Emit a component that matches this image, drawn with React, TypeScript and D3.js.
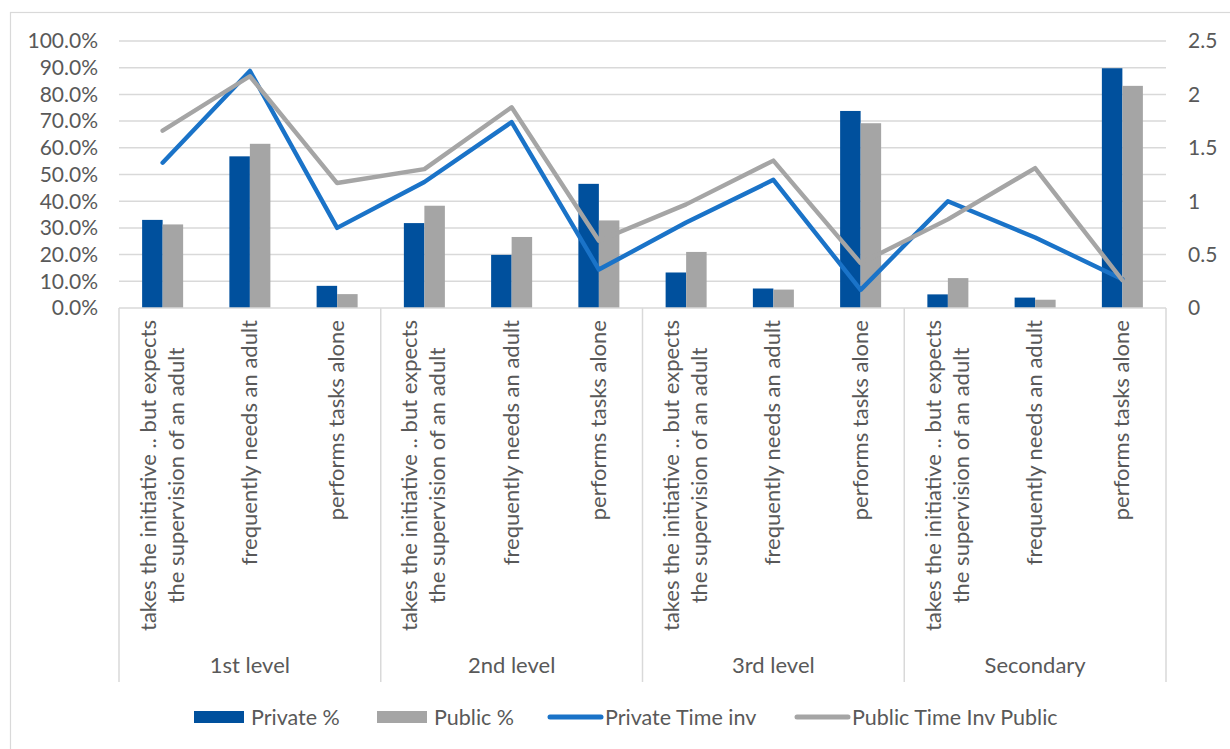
import React, { useEffect, useRef } from "react";
import * as d3 from "d3";

const groups = ["1st level", "2nd level", "3rd level", "Secondary"];
const subLabels = [
  ["takes the initiative .. but expects", "the supervision of an adult"],
  ["frequently needs an adult"],
  ["performs tasks alone"],
];
const privatePct = [33.0, 56.8, 8.3, 31.8, 19.9, 46.5, 13.3, 7.3, 73.8, 5.1, 3.9, 89.8];
const publicPct = [31.3, 61.5, 5.2, 38.3, 26.6, 32.8, 21.0, 6.9, 69.2, 11.2, 3.1, 83.2];
const privateTime = [1.36, 2.22, 0.75, 1.18, 1.74, 0.36, 0.8, 1.2, 0.17, 1.0, 0.66, 0.27];
const publicTime = [1.66, 2.17, 1.17, 1.3, 1.88, 0.63, 0.97, 1.38, 0.42, 0.83, 1.31, 0.26];
const leftTicks = [0, 10, 20, 30, 40, 50, 60, 70, 80, 90, 100];
const rightTicks = [0, 0.5, 1, 1.5, 2, 2.5];
const legendItems = [
  { label: "Private %", kind: "bar", color: "#00509D" },
  { label: "Public %", kind: "bar", color: "#A5A5A5" },
  { label: "Private Time inv", kind: "line", color: "#1A73C8" },
  { label: "Public Time Inv Public", kind: "line", color: "#A5A5A5" },
];

const FONT = "Lato, 'Open Sans', sans-serif";
const TXT = "#595959";
const GRID = "#D9D9D9";

export default function App() {
  const ref = useRef<SVGSVGElement>(null);

  useEffect(() => {
    const svg = d3.select(ref.current);
    svg.selectAll("*").remove();

    const left = 119, right = 1166, top = 41, bottom = 308;
    const cats = d3.range(groups.length * subLabels.length);
    const x = d3.scaleBand<number>().domain(cats).range([left, right]).padding(0);
    const yL = d3.scaleLinear().domain([0, 100]).range([bottom, top]);
    const yR = d3.scaleLinear().domain([0, 2.5]).range([bottom, top]);
    const cx = (i: number) => (x(i) as number) + x.bandwidth() / 2;
    const bw = x.bandwidth() * 0.235;

    // border
    svg.append("rect").attr("x", 10.5).attr("y", 12.5).attr("width", 1240).attr("height", 760)
      .attr("fill", "none").attr("stroke", GRID).attr("stroke-width", 1.2);

    // gridlines
    svg.append("g").selectAll("line").data(leftTicks.slice(1)).join("line")
      .attr("x1", left).attr("x2", right)
      .attr("y1", (d) => yL(d)).attr("y2", (d) => yL(d))
      .attr("stroke", GRID).attr("stroke-width", 1.5);

    // left axis labels
    svg.append("g").selectAll("text").data(leftTicks).join("text")
      .attr("x", 98).attr("y", (d) => yL(d)).attr("dy", "0.35em")
      .attr("text-anchor", "end").attr("fill", TXT)
      .style("font-family", FONT).style("font-size", "21px")
      .text((d) => d3.format(".1f")(d) + "%");

    // right axis labels
    svg.append("g").selectAll("text").data(rightTicks).join("text")
      .attr("x", 1188).attr("y", (d) => yR(d)).attr("dy", "0.35em")
      .attr("text-anchor", "start").attr("fill", TXT)
      .style("font-family", FONT).style("font-size", "21px")
      .text((d) => String(d));

    // bars
    svg.append("g").selectAll("rect").data(privatePct).join("rect")
      .attr("x", (_, i) => cx(i) - bw).attr("width", bw)
      .attr("y", (d) => yL(d)).attr("height", (d) => bottom - yL(d))
      .attr("fill", "#00509D");
    svg.append("g").selectAll("rect").data(publicPct).join("rect")
      .attr("x", (_, i) => cx(i)).attr("width", bw)
      .attr("y", (d) => yL(d)).attr("height", (d) => bottom - yL(d))
      .attr("fill", "#A5A5A5");

    // category axis
    svg.append("line").attr("x1", left).attr("x2", right).attr("y1", bottom).attr("y2", bottom)
      .attr("stroke", GRID).attr("stroke-width", 1.5);
    const sepBottom = 682;
    const seps = d3.range(groups.length + 1).map((g) => left + g * subLabels.length * x.bandwidth());
    svg.append("g").selectAll("line").data(seps).join("line")
      .attr("x1", (d) => d).attr("x2", (d) => d).attr("y1", bottom).attr("y2", sepBottom)
      .attr("stroke", GRID).attr("stroke-width", 1.5);

    // lines
    const lineGen = d3.line<number>().x((_, i) => cx(i)).y((d) => yR(d));
    svg.append("path").datum(privateTime).attr("d", lineGen).attr("fill", "none")
      .attr("stroke", "#1A73C8").attr("stroke-width", 4.4).attr("stroke-linejoin", "round").attr("stroke-linecap", "round");
    svg.append("path").datum(publicTime).attr("d", lineGen).attr("fill", "none")
      .attr("stroke", "#A5A5A5").attr("stroke-width", 4.4).attr("stroke-linejoin", "round").attr("stroke-linecap", "round");

    // rotated category labels
    const labelTop = 320;
    const lineGap = 28;
    cats.forEach((i) => {
      const lines = subLabels[i % subLabels.length];
      const g = svg.append("g");
      const texts = lines.map((t) =>
        g.append("text").attr("fill", TXT).attr("text-anchor", "middle")
          .style("font-family", FONT).style("font-size", "22px").text(t)
      );
      const maxW = d3.max(texts, (t) => (t.node() as SVGTextElement).getComputedTextLength()) || 0;
      const cy = labelTop + maxW / 2;
      texts.forEach((t, k) => {
        const off = (k - (lines.length - 1) / 2) * lineGap;
        const px = cx(i) + off + 7;
        t.attr("transform", `translate(${px},${cy}) rotate(-90)`);
      });
    });

    // group labels
    svg.append("g").selectAll("text").data(groups).join("text")
      .attr("x", (_, g) => (seps[g] + seps[g + 1]) / 2).attr("y", 665).attr("dy", "0.35em")
      .attr("text-anchor", "middle").attr("fill", TXT)
      .style("font-family", FONT).style("font-size", "22px")
      .text((d) => d);

    // legend
    const lg = svg.append("g");
    const legendX = [194, 377, 548, 795];
    const ly = 717;
    legendItems.forEach((it, k) => {
      const x0 = legendX[k];
      if (it.kind === "bar") {
        lg.append("rect").attr("x", x0).attr("y", ly - 6).attr("width", 50).attr("height", 12).attr("fill", it.color);
      } else {
        lg.append("line").attr("x1", x0 + 2).attr("x2", x0 + 53).attr("y1", ly).attr("y2", ly)
          .attr("stroke", it.color).attr("stroke-width", 5).attr("stroke-linecap", "round");
      }
      lg.append("text").attr("x", x0 + 57).attr("y", ly).attr("dy", "0.35em")
        .attr("fill", TXT).style("font-family", FONT).style("font-size", "21.5px").text(it.label);
    });
  }, []);

  return (
    <svg
      ref={ref}
      width={1230}
      height={749}
      style={{ position: "absolute", left: 0, top: 0, background: "#fff" }}
    />
  );
}
